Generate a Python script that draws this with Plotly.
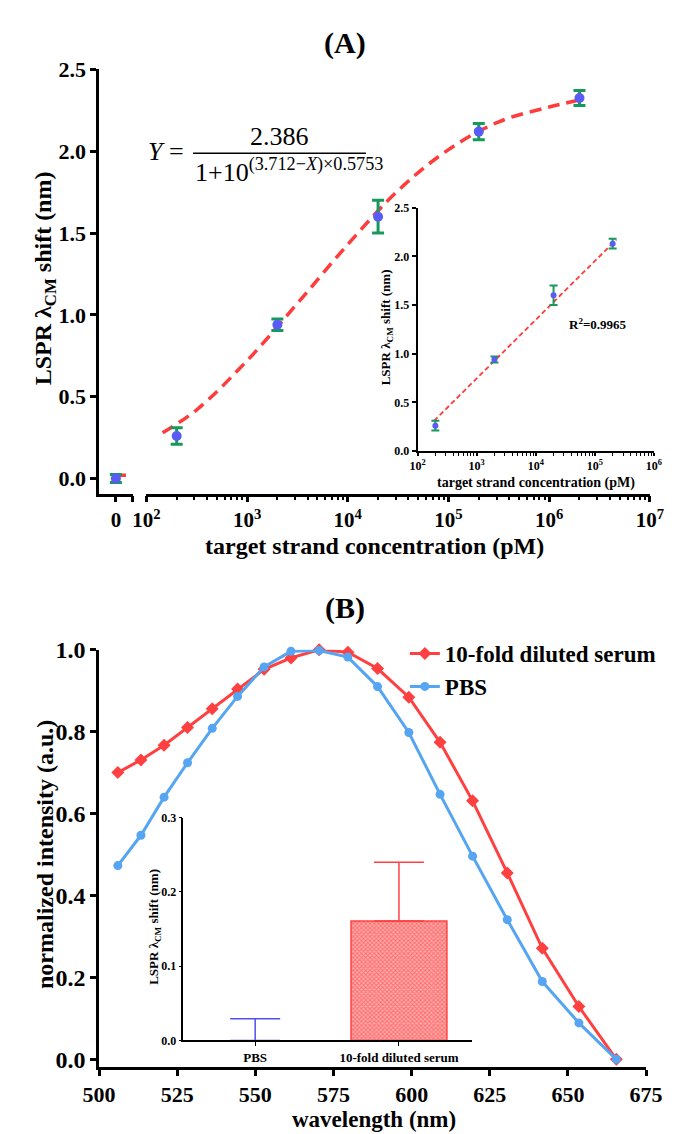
import plotly.graph_objects as go

W, H = 675, 1134
F = "Liberation Serif, Times New Roman, serif"

# ---------------- Panel A data ----------------
zero_conc = [0]
zero_shift = [0.0]
zero_err = [0.025]
conc = [200, 2000, 20000, 200000, 2000000]
shift = [0.26, 0.94, 1.60, 2.12, 2.325]
shift_err = [0.05, 0.035, 0.10, 0.05, 0.046]
fit_conc = [145, 316, 1000, 3162, 10000, 31623, 100000, 316228, 1000000, 1900000]
fit_shift = [0.28, 0.42, 0.72, 1.07, 1.43, 1.76, 2.01, 2.18, 2.27, 2.31]
fit_zero_x = [0, 0.6]
fit_zero_y = [0.02, 0.02]
# inset A
in_conc = [200, 2000, 20000, 200000]
in_shift = [0.26, 0.94, 1.60, 2.13]
in_err = [0.05, 0.03, 0.10, 0.05]
lin_conc = [190, 230000]
lin_shift = [0.31, 2.17]

# ---------------- Panel B data ----------------
wavelength = [506, 513.4, 520.8, 528.3, 536.2, 544.3, 552.8, 561.4, 570.4,
              579.6, 589.1, 599.1, 609.1, 619.5, 630.6, 641.8, 653.5, 665.5]
serum = [0.700, 0.731, 0.767, 0.810, 0.856, 0.904, 0.952, 0.980, 1.000,
         0.994, 0.954, 0.884, 0.774, 0.631, 0.455, 0.271, 0.129, 0.000]
pbs = [0.473, 0.547, 0.640, 0.724, 0.808, 0.886, 0.958, 0.996, 0.998,
       0.982, 0.910, 0.798, 0.647, 0.496, 0.341, 0.190, 0.089, 0.000]
bar_cats = ["PBS", "10-fold diluted serum"]
bar_vals = [0.0, 0.161]
bar_err = [0.029, 0.079]

RED = "#ff3b3b"
BLUE_DOT = "#5a5af5"
GREEN = "#16995a"
BRED = "#ff4040"
BBLUE = "#55a5f2"
BARBLUE = "#5050ee"


def px(x):
    return x / W


def py(y):
    return 1 - y / H


fig = go.Figure()

# ---- Panel A main ----
fig.add_trace(go.Scatter(x=fit_zero_x, y=fit_zero_y, mode="lines", xaxis="x", yaxis="y",
                         line=dict(color=RED, width=3.5), showlegend=False, cliponaxis=False))
fig.add_trace(go.Scatter(x=zero_conc, y=zero_shift, mode="markers", xaxis="x", yaxis="y",
                         marker=dict(color=BLUE_DOT, size=10),
                         error_y=dict(type="data", array=zero_err, color=GREEN, thickness=3, width=6),
                         showlegend=False, cliponaxis=False))
fig.add_trace(go.Scatter(x=fit_conc, y=fit_shift, mode="lines", xaxis="x2", yaxis="y",
                         line=dict(color=RED, width=3.5, dash="12px,7px", shape="spline"),
                         showlegend=False))
fig.add_trace(go.Scatter(x=conc, y=shift, mode="markers", xaxis="x2", yaxis="y",
                         marker=dict(color=BLUE_DOT, size=10),
                         error_y=dict(type="data", array=shift_err, color=GREEN, thickness=3, width=6),
                         showlegend=False, cliponaxis=False))

# ---- Panel A inset ----
fig.add_trace(go.Scatter(x=lin_conc, y=lin_shift, mode="lines", xaxis="x3", yaxis="y3",
                         line=dict(color=RED, width=1.8, dash="5px,3px"), showlegend=False))
fig.add_trace(go.Scatter(x=in_conc, y=in_shift, mode="markers", xaxis="x3", yaxis="y3",
                         marker=dict(color=BLUE_DOT, size=6),
                         error_y=dict(type="data", array=in_err, color=GREEN, thickness=2, width=4),
                         showlegend=False, cliponaxis=False))

# ---- Panel B main ----
fig.add_trace(go.Scatter(x=wavelength, y=serum, mode="lines+markers", xaxis="x4", yaxis="y4",
                         name="10-fold diluted serum",
                         line=dict(color=BRED, width=3),
                         marker=dict(color=BRED, size=10, symbol="diamond"),
                         cliponaxis=False))
fig.add_trace(go.Scatter(x=wavelength, y=pbs, mode="lines+markers", xaxis="x4", yaxis="y4",
                         name="PBS",
                         line=dict(color=BBLUE, width=3),
                         marker=dict(color=BBLUE, size=9, symbol="circle"),
                         cliponaxis=False))

# ---- Panel B inset bars ----
fig.add_trace(go.Bar(x=[0], y=[bar_vals[0]], xaxis="x5", yaxis="y5", width=0.667,
                     marker=dict(color="rgba(0,0,0,0)", line=dict(width=0)),
                     error_y=dict(type="data", symmetric=False, array=[bar_err[0]], arrayminus=[0],
                                  color=BARBLUE, thickness=1.5, width=25),
                     showlegend=False))
fig.add_trace(go.Bar(x=[1], y=[bar_vals[1]], xaxis="x5", yaxis="y5", width=0.667,
                     marker=dict(color="#ff9c9c", line=dict(color=BRED, width=1.5),
                                 pattern=dict(shape="x", fgcolor="#ff3030", bgcolor="#ffb4b4",
                                              size=3, solidity=0.6)),
                     error_y=dict(type="data", symmetric=False, array=[bar_err[1]], arrayminus=[0],
                                  color=BRED, thickness=1.5, width=25),
                     showlegend=False))

axis_common = dict(showline=True, linecolor="black", showgrid=False, zeroline=False,
                   ticks="outside", tickcolor="black")

minorA = [m * 10 ** e for e in range(2, 7) for m in range(2, 10)]
minorIn = [m * 10 ** e for e in range(2, 6) for m in range(2, 10)]


def tf(size):
    return dict(family=F, size=size, color="black", weight="bold")


fig.update_layout(
    width=W, height=H,
    margin=dict(l=0, r=0, t=0, b=0),
    paper_bgcolor="white", plot_bgcolor="rgba(0,0,0,0)",
    barmode="overlay",
    font=dict(family=F, color="black"),
    xaxis=dict(**axis_common, domain=[px(78), px(113.4)], range=[-1, 1], anchor="y",
               tickvals=[0, 1], ticktext=["0", ""], linewidth=2.5, tickwidth=2.5, ticklen=6,
               tickfont=tf(21)),
    xaxis2=dict(**axis_common, type="log", domain=[px(127.8), px(658)], range=[2, 7], anchor="y",
                tickvals=[1e2, 1e3, 1e4, 1e5, 1e6, 1e7],
                ticktext=["10<sup>2</sup>", "10<sup>3</sup>", "10<sup>4</sup>",
                          "10<sup>5</sup>", "10<sup>6</sup>", "10<sup>7</sup>"],
                linewidth=2.5, tickwidth=2.5, ticklen=6, tickfont=tf(21),
                minor=dict(tickvals=minorA, ticks="outside", ticklen=4, tickwidth=2, tickcolor="black")),
    yaxis=dict(**axis_common, domain=[py(481), py(49.3)], range=[-0.0918, 2.5], anchor="x",
               tickvals=[0, 0.5, 1.0, 1.5, 2.0, 2.5],
               ticktext=["0.0", "0.5", "1.0", "1.5", "2.0", "2.5"],
               linewidth=2.5, tickwidth=2.5, ticklen=6, tickfont=tf(22)),
    xaxis3=dict(**axis_common, type="log", domain=[px(413.4), px(662.3)], range=[2, 6], anchor="y3",
                tickvals=[1e2, 1e3, 1e4, 1e5, 1e6],
                ticktext=["10<sup>2</sup>", "10<sup>3</sup>", "10<sup>4</sup>",
                          "10<sup>5</sup>", "10<sup>6</sup>"],
                linewidth=1.8, tickwidth=1.5, ticklen=3, tickfont=tf(12),
                minor=dict(tickvals=minorIn, ticks="outside", ticklen=3, tickwidth=1.2, tickcolor="black")),
    yaxis3=dict(**axis_common, domain=[py(437.7), py(190)], range=[0, 2.5], anchor="x3",
                tickvals=[0, 0.5, 1.0, 1.5, 2.0, 2.5],
                ticktext=["0.0", "0.5", "1.0", "1.5", "2.0", "2.5"],
                linewidth=1.8, tickwidth=1.5, ticklen=4, tickfont=tf(12)),
    xaxis4=dict(**axis_common, domain=[px(78), px(654)], range=[500, 675], anchor="y4",
                tickvals=[500, 525, 550, 575, 600, 625, 650, 675],
                linewidth=2.5, tickwidth=2.5, ticklen=6, tickfont=tf(22)),
    yaxis4=dict(**axis_common, domain=[py(1065), py(640)], range=[-0.0192, 1.0], anchor="x4",
                tickvals=[0, 0.2, 0.4, 0.6, 0.8, 1.0],
                ticktext=["0.0", "0.2", "0.4", "0.6", "0.8", "1.0"],
                linewidth=2.5, tickwidth=2.5, ticklen=6, tickfont=tf(24)),
    xaxis5=dict(**axis_common, domain=[px(166.7), px(471)], range=[-0.5, 1.51], anchor="y5",
                tickvals=[0, 1], ticktext=bar_cats,
                linewidth=1.5, tickwidth=1.2, ticklen=4, tickfont=tf(13)),
    yaxis5=dict(**axis_common, domain=[py(1037.7), py(811)], range=[0, 0.3], anchor="x5",
                tickvals=[0, 0.1, 0.2, 0.3], ticktext=["0.0", "0.1", "0.2", "0.3"],
                linewidth=1.5, tickwidth=1.2, ticklen=3, tickfont=tf(12)),
    legend=dict(x=px(400), y=py(622), xanchor="left", yanchor="top",
                font=tf(23), bgcolor="rgba(0,0,0,0)", tracegroupgap=0, itemwidth=30),
)

ann = []


def txt(x, y, s, size, bold=True, angle=0, xanchor="center", yanchor="middle"):
    ann.append(dict(x=px(x), y=py(y), xref="paper", yref="paper", text=s, showarrow=False,
                    xanchor=xanchor, yanchor=yanchor, textangle=angle,
                    font=dict(family=F, size=size, color="black", weight="bold" if bold else "normal")))


txt(337, 22, "(A)", 30)
txt(337, 598, "(B)", 30)
txt(368, 534, "target strand concentration (pM)", 24)
txt(21, 262, "LSPR λ<sub>CM</sub> shift (nm)", 24, angle=-90)
txt(538, 470, "target strand concentration (pM)", 14)
txt(381, 312, "LSPR λ<sub>CM</sub> shift (nm)", 13, angle=-90)
txt(603, 308, "R<sup>2</sup>=0.9965", 13)
txt(21, 848, "normalized intensity (a.u.)", 24, angle=-90)
txt(368, 1118, "wavelength (nm)", 23)
txt(137, 922, "LSPR λ<sub>CM</sub> shift (nm)", 13, angle=-90)
# equation
txt(127, 133, "<i>Y</i> =", 26, bold=False, xanchor="left")
txt(268, 118, "2.386", 26, bold=False)
txt(177, 152, "1+10<sup>(3.712−<i>X</i>)×0.5753</sup>", 26, bold=False, xanchor="left")

fig.update_layout(annotations=ann)
fig.add_shape(type="line", xref="paper", yref="paper", x0=px(177), x1=px(359), y0=py(134.7), y1=py(134.7),
              line=dict(color="black", width=1.5))

fig.write_html("out.html")
